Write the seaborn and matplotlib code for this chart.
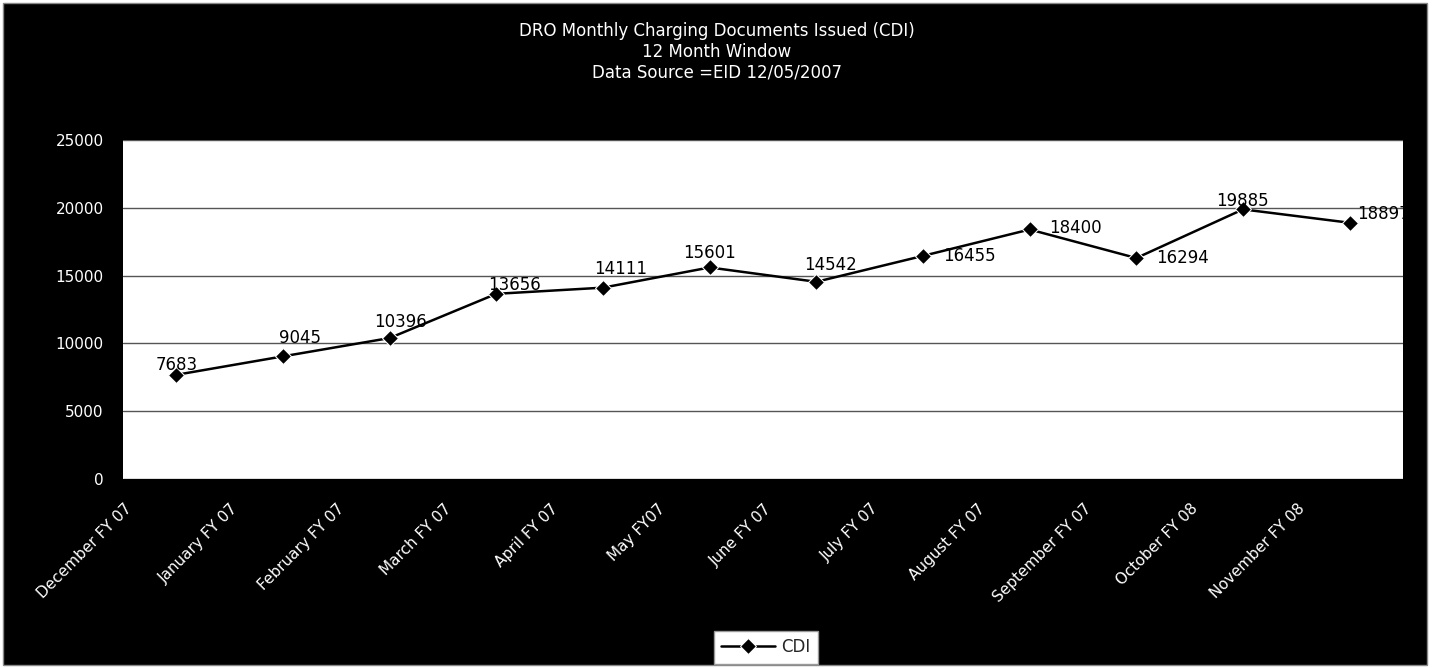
import matplotlib
matplotlib.use("Agg")
import matplotlib.pyplot as plt
import matplotlib.transforms as mtransforms
from matplotlib.patches import Rectangle
import pandas as pd
import seaborn as sns

# dados
meses = ["December FY 07", "January FY 07", "February FY 07", "March FY 07",
         "April FY 07", "May FY07", "June FY 07", "July FY 07",
         "August FY 07", "September FY 07", "October FY 08", "November FY 08"]
cdi = [7683, 9045, 10396, 13656, 14111, 15601, 14542, 16455,
       18400, 16294, 19885, 18897]
titulo = ["DRO Monthly Charging Documents Issued (CDI)",
          "12 Month Window",
          "Data Source =EID 12/05/2007"]
yticks = [0, 5000, 10000, 15000, 20000, 25000]

# deslocamento dos rotulos (pixels) em relacao a cada ponto
rot_dx = [0, 17, 11, 18, 18, 0, 14, 46, 46, 46, -1, 34]
rot_dy = [10, 18, 16, 9, 19, 14, 17, 0, 1, 0, 8, 9]

sns.set_theme(style="white")
plt.rcParams["font.family"] = ["DejaVu Sans"]

df = pd.DataFrame({"mes": meses, "CDI": cdi})

fig = plt.figure(figsize=(14.33, 6.68), dpi=100)
fig.patch.set_facecolor("white")
fig.add_artist(Rectangle((3 / 1433, 3 / 668), 1424 / 1433, 662 / 668,
                         transform=fig.transFigure, facecolor="black",
                         edgecolor="#888888", linewidth=1, zorder=-10))

ax = fig.add_axes([123 / 1433, 1 - 479 / 668, 1280 / 1433, 339 / 668])
ax.set_facecolor("white")

sns.lineplot(data=df, x="mes", y="CDI", sort=False, ax=ax, color="black",
             marker="D", markersize=8, linewidth=1.8, label="CDI",
             legend=False)

# rotulos de dados (cortados pela area do grafico, como no original)
for i, v in enumerate(cdi):
    ann = ax.annotate(str(v), (i, v), xytext=(rot_dx[i], rot_dy[i]),
                      textcoords="offset pixels", ha="center", va="center",
                      fontsize=12, color="black")
    ann.set_clip_path(ax.patch)

ax.set_xlim(-0.5, len(meses) - 0.5)
ax.set_ylim(0, 25000)
ax.set_yticks(yticks)
ax.set_yticklabels([str(t) for t in yticks])
ax.yaxis.grid(True, color="#555555", linewidth=1)
ax.xaxis.grid(False)
for s in ax.spines.values():
    s.set_visible(False)

ax.set_xlabel("")
ax.set_ylabel("")
ax.tick_params(axis="y", length=0, pad=14, labelsize=11, labelcolor="white")
ax.tick_params(axis="x", length=0, pad=16, labelsize=11, labelcolor="white")
desloc = mtransforms.ScaledTranslation(-0.42, 0, fig.dpi_scale_trans)
for lbl in ax.get_xticklabels():
    lbl.set_rotation(45)
    lbl.set_ha("right")
    lbl.set_va("top")
    lbl.set_transform(lbl.get_transform() + desloc)

fig.text(0.5, 1 - 52 / 668, "\n".join(titulo), ha="center", va="center",
         color="white", fontsize=12, linespacing=1.2)

leg = fig.legend(*ax.get_legend_handles_labels(), loc="center",
                 bbox_to_anchor=(766 / 1433, 1 - 647 / 668), frameon=True,
                 fancybox=False, fontsize=12, handlelength=3.2,
                 handletextpad=0.4, borderpad=0.45, facecolor="white",
                 edgecolor="#999999", framealpha=1)
leg.get_frame().set_linewidth(1)

plt.savefig("out.png", dpi=100, facecolor=fig.get_facecolor())
